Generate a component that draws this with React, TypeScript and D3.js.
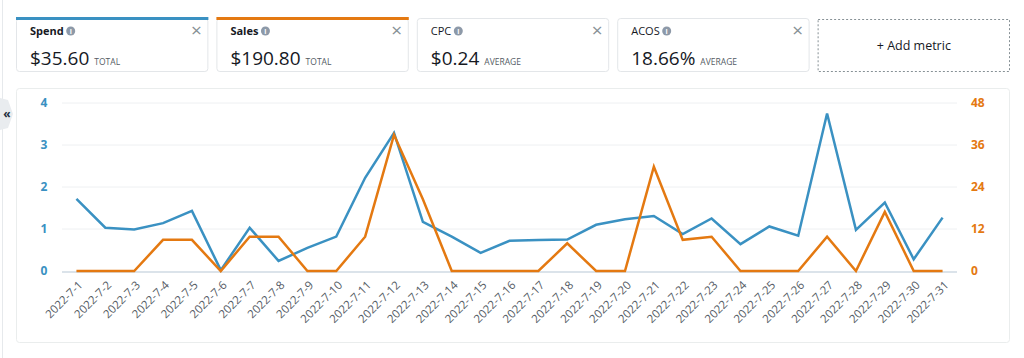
import React, {useEffect, useRef} from 'react'
import * as d3 from 'd3'

const dates = [
  '2022-7-1', '2022-7-2', '2022-7-3', '2022-7-4', '2022-7-5', '2022-7-6', '2022-7-7', '2022-7-8',
  '2022-7-9', '2022-7-10', '2022-7-11', '2022-7-12', '2022-7-13', '2022-7-14', '2022-7-15', '2022-7-16',
  '2022-7-17', '2022-7-18', '2022-7-19', '2022-7-20', '2022-7-21', '2022-7-22', '2022-7-23', '2022-7-24',
  '2022-7-25', '2022-7-26', '2022-7-27', '2022-7-28', '2022-7-29', '2022-7-30', '2022-7-31',
]
const spend = [
  1.72, 1.03, 0.99, 1.14, 1.43, 0.02, 1.03, 0.24, 0.55, 0.82, 2.22, 3.29, 1.17, 0.82, 0.43, 0.72,
  0.74, 0.75, 1.1, 1.23, 1.31, 0.88, 1.25, 0.64, 1.06, 0.84, 3.75, 0.98, 1.63, 0.28, 1.27,
]
const sales = [
  0, 0, 0, 8.9, 8.9, 0, 9.8, 9.8, 0, 0, 9.8, 38.9, 20.5, 0, 0, 0,
  0, 7.9, 0, 0, 29.8, 8.9, 9.8, 0, 0, 0, 9.8, 0, 16.9, 0, 0,
]
const leftTicks = [0, 1, 2, 3, 4]
const rightTicks = [0, 12, 24, 36, 48]

const metricNames = ['Spend', 'Sales', 'CPC', 'ACOS']
const metricValues = ['$35.60', '$190.80', '$0.24', '18.66%']
const metricKinds = ['TOTAL', 'TOTAL', 'AVERAGE', 'AVERAGE']
const metricColors = ['#3a91c2', '#e47911', null, null]

const W = 1024
const H = 358
const plot = {left: 62, right: 957, top: 103, bottom: 271}
const blue = '#3a91c2'
const orange = '#e47911'
const font = '"Open Sans", "Noto Sans", sans-serif'

const App = () => {
  const ref = useRef<SVGSVGElement>(null)

  useEffect(() => {
    const svg = d3.select(ref.current)
    svg.selectAll('*').remove()

    // left edge + collapse tab
    svg.append('line').attr('x1', 2.5).attr('x2', 2.5).attr('y1', 0).attr('y2', H)
      .attr('stroke', '#e6e9ec')
    svg.append('path').attr('d', 'M0,98 L8,100 L13,114 L8,128 L0,130 Z').attr('fill', '#e9ecef')
    svg.append('text').attr('x', 7).attr('y', 118).attr('text-anchor', 'middle')
      .attr('font-family', font).attr('font-size', 12).attr('font-weight', 700).attr('fill', '#232f3e')
      .text('«')

    // metric cards
    const cardX = d3.scaleBand().domain(d3.range(5).map(String)).range([16, 1010]).paddingInner(0.04)
    metricNames.forEach((name, i) => {
      const x = cardX(String(i))!
      const w = cardX.bandwidth()
      const g = svg.append('g').attr('transform', `translate(${x},0)`)
      g.append('rect').attr('x', 0.5).attr('y', 18.5).attr('width', w - 1).attr('height', 53)
        .attr('rx', 3).attr('fill', '#fff').attr('stroke', '#e3e6e9')
      const c = metricColors[i]
      if (c) g.append('rect').attr('x', 0).attr('y', 17).attr('width', w).attr('height', 3).attr('fill', c)
      const t = g.append('text').attr('x', 14).attr('y', 35).attr('font-family', font)
        .attr('font-size', 11).attr('font-weight', c ? 700 : 400).attr('fill', '#16191f').text(name)
      const tw = (t.node() as SVGTextElement).getComputedTextLength()
      g.append('circle').attr('cx', 14 + tw + 7).attr('cy', 31).attr('r', 4.5).attr('fill', '#8d99a8')
      g.append('text').attr('x', 14 + tw + 7).attr('y', 33.5).attr('text-anchor', 'middle')
        .attr('font-family', font).attr('font-size', 7).attr('font-weight', 700).attr('fill', '#fff').text('i')
      g.append('text').attr('x', w - 12).attr('y', 37).attr('text-anchor', 'middle')
        .attr('font-family', font).attr('font-size', 19).attr('fill', '#879196').text('×')
      const v = g.append('text').attr('x', 14).attr('y', 65).attr('font-family', font)
        .attr('font-size', 19).attr('fill', '#16191f').text(metricValues[i])
      const vw = (v.node() as SVGTextElement).getComputedTextLength()
      g.append('text').attr('x', 14 + vw + 5).attr('y', 65).attr('font-family', font)
        .attr('font-size', 8.5).attr('fill', '#545b64').text(metricKinds[i])
    })
    const ax = cardX('4')!
    svg.append('rect').attr('x', ax + 0.5).attr('y', 19.5).attr('width', cardX.bandwidth() - 1).attr('height', 52)
      .attr('fill', 'none').attr('stroke', '#879196').attr('stroke-dasharray', '2,2')
    svg.append('text').attr('x', ax + cardX.bandwidth() / 2).attr('y', 50).attr('text-anchor', 'middle')
      .attr('font-family', font).attr('font-size', 12.5).attr('fill', '#16191f').text('+ Add metric')

    // chart panel
    svg.append('rect').attr('x', 16.5).attr('y', 88.5).attr('width', 993).attr('height', 254)
      .attr('rx', 3).attr('fill', '#fff').attr('stroke', '#eaeded')

    const x = d3.scalePoint().domain(dates).range([plot.left, plot.right]).padding(0.5)
    const yL = d3.scaleLinear().domain([0, 4]).range([plot.bottom, plot.top])
    const yR = d3.scaleLinear().domain([0, 48]).range([plot.bottom, plot.top])

    svg.append('g').selectAll('line').data(leftTicks.slice(1)).join('line')
      .attr('x1', plot.left).attr('x2', plot.right)
      .attr('y1', d => yL(d)).attr('y2', d => yL(d)).attr('stroke', '#eef0f2')
    svg.append('line').attr('x1', plot.left).attr('x2', plot.right)
      .attr('y1', plot.bottom + 1).attr('y2', plot.bottom + 1).attr('stroke', '#dbe3ea').attr('stroke-width', 2)

    svg.append('g').selectAll('text').data(leftTicks).join('text')
      .attr('x', 44).attr('y', d => yL(d)).attr('dy', '0.35em').attr('text-anchor', 'middle')
      .attr('font-family', font).attr('font-size', 12).attr('font-weight', 700).attr('fill', blue)
      .text(d => d)
    svg.append('g').selectAll('text').data(rightTicks).join('text')
      .attr('x', 971).attr('y', d => yR(d)).attr('dy', '0.35em').attr('text-anchor', 'start')
      .attr('font-family', font).attr('font-size', 12).attr('font-weight', 700).attr('fill', orange)
      .text(d => d)

    svg.append('g').selectAll('text').data(dates).join('text')
      .attr('transform', d => `translate(${x(d)! + 4},${plot.bottom + 12}) rotate(-45)`)
      .attr('text-anchor', 'end').attr('dy', '0.35em')
      .attr('font-family', font).attr('font-size', 11.5).attr('fill', '#545b64')
      .text(d => d)

    const spendLine = d3.line<number>().x((_, i) => x(dates[i])!).y(d => yL(d))
    const salesLine = d3.line<number>().x((_, i) => x(dates[i])!).y(d => yR(d))
    svg.append('path').datum(spend).attr('d', spendLine).attr('fill', 'none')
      .attr('stroke', blue).attr('stroke-width', 2.5).attr('stroke-linejoin', 'miter')
    svg.append('path').datum(sales).attr('d', salesLine).attr('fill', 'none')
      .attr('stroke', orange).attr('stroke-width', 2.5).attr('stroke-linejoin', 'miter')
  }, [])

  return (
    <div style={{position: 'absolute', left: 0, top: 0, background: '#fff'}}>
      <svg ref={ref} width={W} height={H} style={{display: 'block'}}></svg>
    </div>
  )
}

export default App
